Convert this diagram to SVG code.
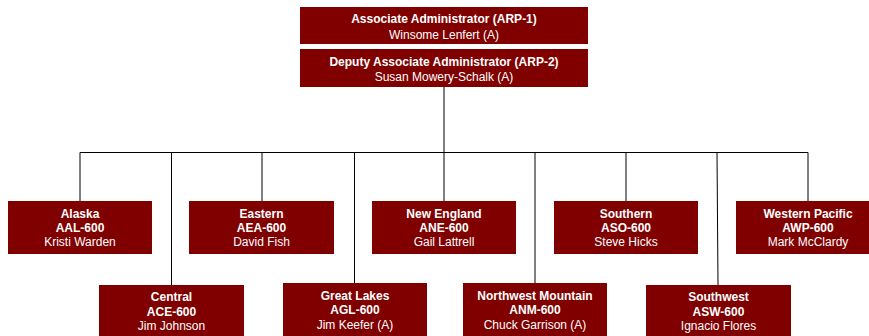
<svg xmlns="http://www.w3.org/2000/svg" width="869" height="336" viewBox="0 0 869 336">
<style>
.box{fill:#800000}
.t{font-family:"Liberation Sans",Arial,sans-serif;font-size:12px;fill:#fff;text-anchor:middle}
.b{font-weight:bold}
.c{stroke:#000;stroke-width:1;fill:none}
</style>
<rect width="869" height="336" fill="#fff"/>
<g id="connectors">
<path class="c" d="M444,87V152.5M80,152.5H808M80,152.5V201M171.5,152.5V285M262,152.5V201M354.5,152.5V283M444,152.5V201M535,152.5V283M626,152.5V201M717,152.5L718,285M808,152.5V201"/>
</g>
<g id="arp1"><rect class="box" x="300" y="7" width="288" height="37"/>
<text class="t b" x="444" y="23">Associate Administrator (ARP-1)</text>
<text class="t" x="444" y="38.5">Winsome Lenfert (A)</text></g>
<g id="arp2"><rect class="box" x="300" y="49" width="288" height="38"/>
<text class="t b" x="444" y="65.5">Deputy Associate Administrator (ARP-2)</text>
<text class="t" x="444" y="80.5">Susan Mowery-Schalk (A)</text></g>
<g id="aal"><rect class="box" x="8" y="201" width="144" height="53"/>
<text class="t b" x="80" y="217.5">Alaska</text><text class="t b" x="80" y="231.5">AAL-600</text><text class="t" x="80" y="245.5">Kristi Warden</text></g>
<g id="aea"><rect class="box" x="189" y="201" width="145" height="53"/>
<text class="t b" x="261.5" y="217.5">Eastern</text><text class="t b" x="261.5" y="231.5">AEA-600</text><text class="t" x="261.5" y="245.5">David Fish</text></g>
<g id="ane"><rect class="box" x="372" y="201" width="144" height="53"/>
<text class="t b" x="444" y="217.5">New England</text><text class="t b" x="444" y="231.5">ANE-600</text><text class="t" x="444" y="245.5">Gail Lattrell</text></g>
<g id="aso"><rect class="box" x="554" y="201" width="144" height="53"/>
<text class="t b" x="626" y="217.5">Southern</text><text class="t b" x="626" y="231.5">ASO-600</text><text class="t" x="626" y="245.5">Steve Hicks</text></g>
<g id="awp"><rect class="box" x="736" y="201" width="144" height="53"/>
<text class="t b" x="808" y="217.5">Western Pacific</text><text class="t b" x="808" y="231.5">AWP-600</text><text class="t" x="808" y="245.5">Mark McClardy</text></g>
<g id="ace"><rect class="box" x="99" y="285" width="145" height="60"/>
<text class="t b" x="171.5" y="301">Central</text><text class="t b" x="171.5" y="316">ACE-600</text><text class="t" x="171.5" y="329.5">Jim Johnson</text></g>
<g id="agl"><rect class="box" x="283" y="283" width="144" height="60"/>
<text class="t b" x="355" y="300">Great Lakes</text><text class="t b" x="355" y="314">AGL-600</text><text class="t" x="355" y="328.5">Jim Keefer (A)</text></g>
<g id="anm"><rect class="box" x="463" y="283" width="144" height="60"/>
<text class="t b" x="535" y="300">Northwest Mountain</text><text class="t b" x="535" y="314">ANM-600</text><text class="t" x="535" y="328.5">Chuck Garrison (A)</text></g>
<g id="asw"><rect class="box" x="646" y="285" width="145" height="60"/>
<text class="t b" x="718.5" y="301">Southwest</text><text class="t b" x="718.5" y="316">ASW-600</text><text class="t" x="718.5" y="329.5">Ignacio Flores</text></g>
</svg>
